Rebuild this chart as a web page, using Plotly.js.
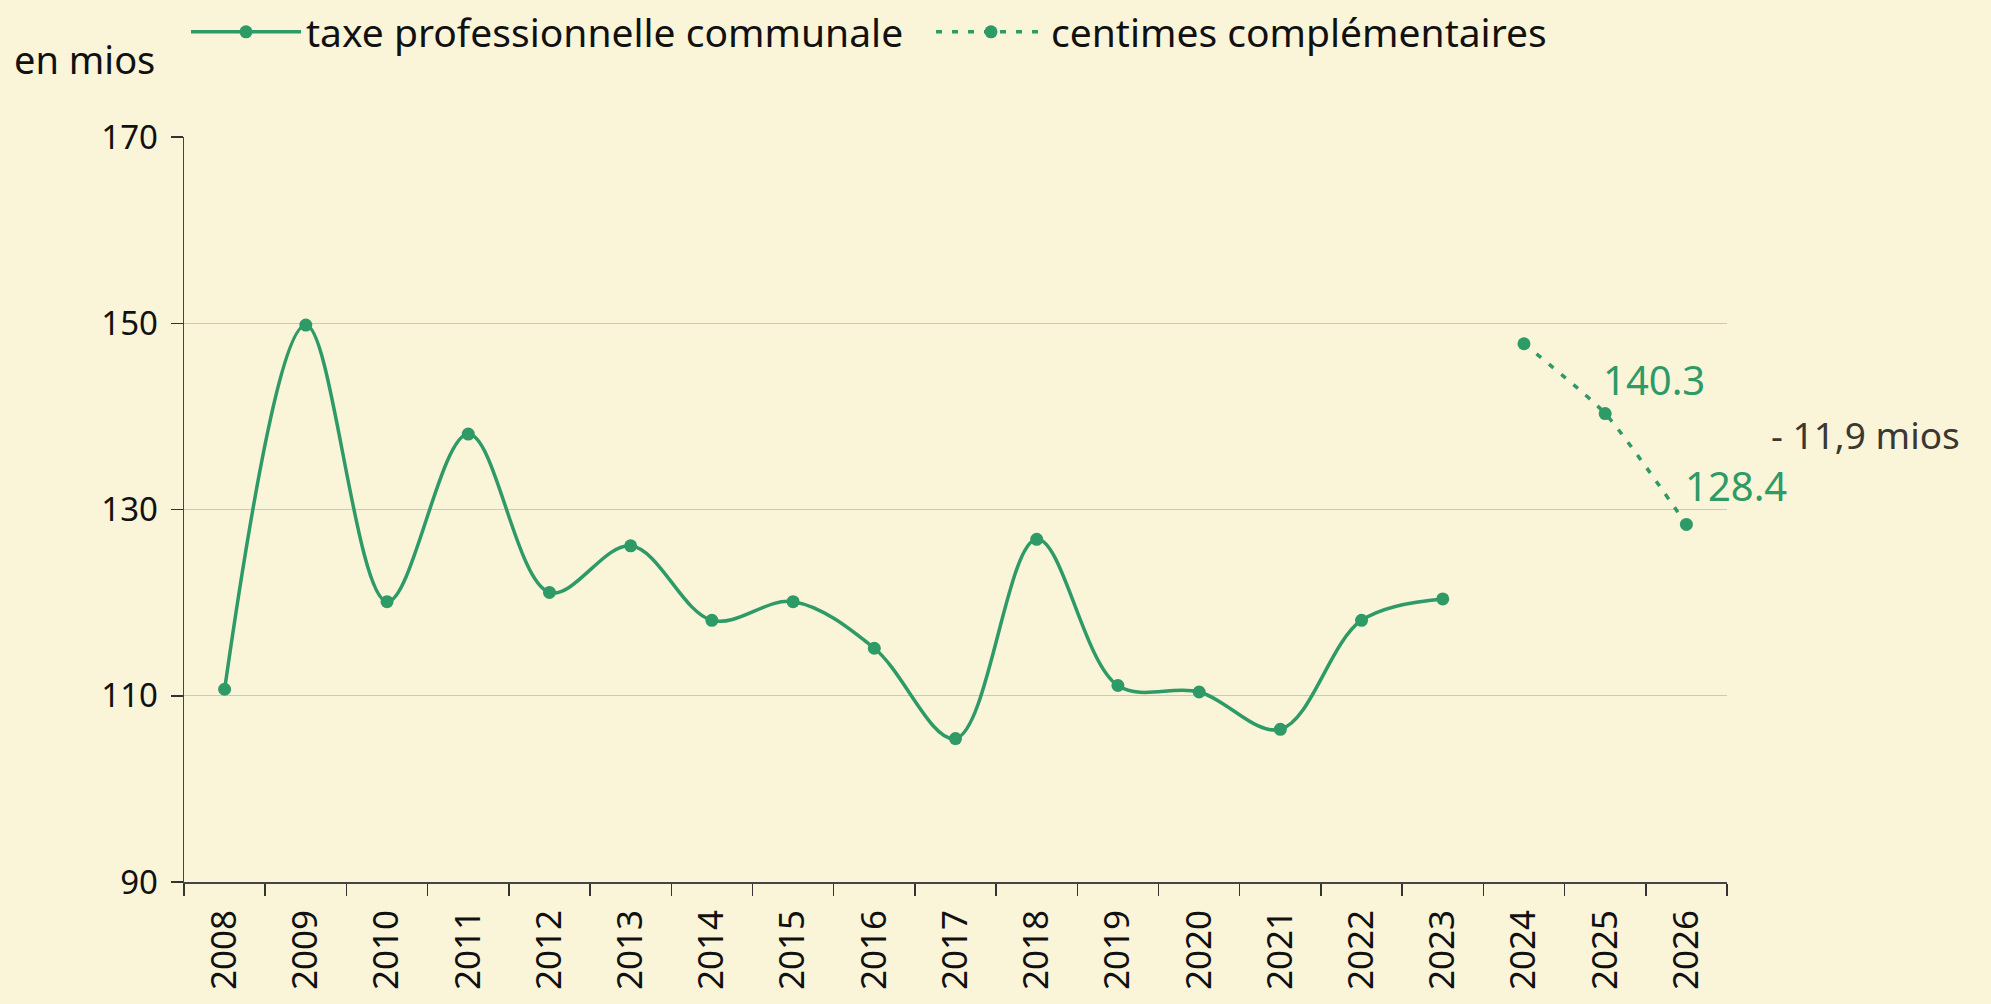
<!DOCTYPE html>
<html>
<head>
<meta charset="utf-8">
<script src="https://cdn.plot.ly/plotly-3.0.1.min.js"></script>
<style>html,body{margin:0;padding:0;background:#FAF4D9;}</style>
</head>
<body>
<div id="chart" style="width:1991px;height:1004px;"></div>
<script>
// ---- data ----
const years = [2008, 2009, 2010, 2011, 2012, 2013, 2014, 2015, 2016, 2017, 2018, 2019, 2020, 2021, 2022, 2023];
const taxeProfessionnelle = [110.7, 149.8, 120.1, 138.1, 121.1, 126.1, 118.1, 120.1, 115.1, 105.4, 126.8, 111.1, 110.4, 106.4, 118.1, 120.4];
const yearsProjection = [2024, 2025, 2026];
const centimesComplementaires = [147.8, 140.3, 128.4];
const allYears = [2008, 2009, 2010, 2011, 2012, 2013, 2014, 2015, 2016, 2017, 2018, 2019, 2020, 2021, 2022, 2023, 2024, 2025, 2026];
const yTickValues = [90, 110, 130, 150, 170];
const seriesNames = ["taxe professionnelle communale", "centimes complémentaires"];
const unitLabel = "en mios";
const changeLabel = "- 11,9 mios";
const labelledYears = [2025, 2026];

// ---- style ----
const green = "#2E9A66";
const bg = "#FAF4D9";
const font = "Noto Sans, Open Sans, sans-serif";
const W = 1991, H = 1004;
const M = {l: 184, r: 264, t: 137, b: 122};
const plotW = W - M.l - M.r, plotH = H - M.t - M.b;
const px2paperX = px => (px - M.l) / plotW;
const px2paperY = py => (H - M.b - py) / plotH;

const boundaries = allYears.map(y => y - 0.5).concat([allYears[allYears.length - 1] + 0.5]);
const xRange = [boundaries[0], boundaries[boundaries.length - 1]];

const traces = [
  {
    x: years, y: taxeProfessionnelle, name: seriesNames[0],
    type: "scatter", mode: "lines+markers",
    line: {color: green, width: 3.5, shape: "spline", smoothing: 1},
    marker: {color: green, size: 13},
    xaxis: "x", yaxis: "y", hoverinfo: "x+y"
  },
  {
    x: yearsProjection, y: centimesComplementaires, name: seriesNames[1],
    type: "scatter", mode: "lines+markers",
    line: {color: green, width: 3.5, dash: "6px,10px", shape: "spline", smoothing: 0.6},
    marker: {color: green, size: 13},
    xaxis: "x", yaxis: "y", hoverinfo: "x+y"
  },
  {
    x: allYears, y: allYears.map(() => null), type: "scatter", mode: "none",
    showlegend: false, hoverinfo: "skip", xaxis: "x2", yaxis: "y"
  }
];

const annotations = labelledYears.map((yr, i) => {
  const idx = yearsProjection.indexOf(yr);
  return {
    x: yr, y: centimesComplementaires[idx], xref: "x", yref: "y",
    text: centimesComplementaires[idx].toFixed(1),
    showarrow: false, xanchor: "left", yanchor: "bottom",
    xshift: i === 0 ? -4 : -3, yshift: i === 0 ? 5 : 9,
    font: {family: font, size: 40, color: green}
  };
});
annotations.push({
  text: changeLabel, xref: "paper", yref: "paper",
  x: px2paperX(1769), y: px2paperY(434), xanchor: "left", yanchor: "middle",
  showarrow: false, font: {family: font, size: 37, color: "#3A3830"}
});
annotations.push({
  text: unitLabel, xref: "paper", yref: "paper",
  x: px2paperX(12), y: px2paperY(59), xanchor: "left", yanchor: "middle",
  showarrow: false, font: {family: font, size: 38, color: "#111"}
});

const layout = {
  width: W, height: H,
  paper_bgcolor: bg, plot_bgcolor: bg,
  margin: M,
  font: {family: font, color: "#111"},
  showlegend: true,
  legend: {
    orientation: "h", xref: "container", yref: "container",
    x: 186 / W, y: 1, xanchor: "left", yanchor: "top",
    itemwidth: 110, entrywidth: 620, entrywidthmode: "pixels",
    bgcolor: "rgba(0,0,0,0)",
    font: {family: font, size: 39, color: "#111"}
  },
  xaxis: {
    type: "linear", range: xRange,
    tickmode: "array", tickvals: boundaries, showticklabels: false,
    ticks: "outside", ticklen: 12, tickwidth: 1.5, tickcolor: "#333",
    showline: true, linecolor: "#444", linewidth: 1.5,
    showgrid: false, zeroline: false, fixedrange: true
  },
  xaxis2: {
    type: "linear", range: xRange, overlaying: "x", side: "bottom",
    tickmode: "array", tickvals: allYears, ticktext: allYears.map(String),
    ticks: "", tickangle: -90, ticklabelstandoff: 20,
    tickfont: {family: font, size: 35, color: "#111"},
    showline: false, showgrid: false, zeroline: false, fixedrange: true
  },
  yaxis: {
    range: [yTickValues[0], yTickValues[yTickValues.length - 1]],
    tickmode: "array", tickvals: yTickValues, ticktext: yTickValues.map(String),
    ticks: "outside", ticklen: 12, tickwidth: 1.5, tickcolor: "#333",
    ticklabelstandoff: 6,
    tickfont: {family: font, size: 33, color: "#111"},
    showline: true, linecolor: "#444", linewidth: 1.5,
    showgrid: true, gridcolor: "#C8C8C8", gridwidth: 1.2,
    zeroline: false, fixedrange: true
  },
  annotations: annotations
};

Plotly.newPlot("chart", traces, layout, {displayModeBar: false, staticPlot: true});
</script>
</body>
</html>
